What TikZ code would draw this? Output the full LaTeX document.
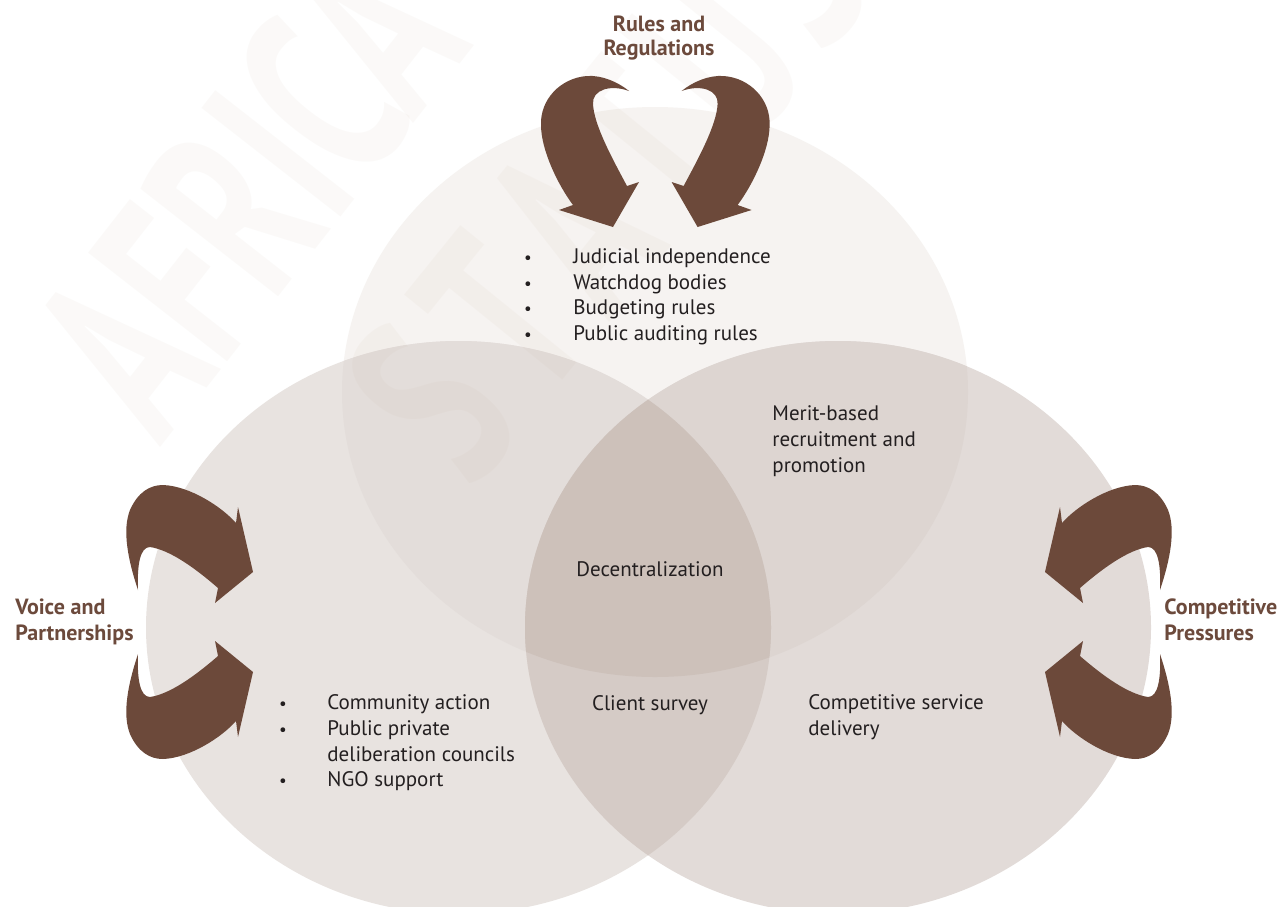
\documentclass[tikz,border=0pt]{standalone}
\usepackage{fontspec}
\setmainfont{PT Sans}
\definecolor{arrowcol}{RGB}{108,73,58}
\definecolor{labelcol}{RGB}{108,74,60}
\definecolor{textdark}{RGB}{35,31,32}
\definecolor{topcol}{RGB}{246,243,241}
\definecolor{leftcol}{RGB}{232,227,224}
\definecolor{rightcol}{RGB}{226,219,216}
\definecolor{ltcol}{RGB}{227,221,218}
\definecolor{rtcol}{RGB}{221,213,209}
\definecolor{lrcol}{RGB}{213,203,198}
\definecolor{lrtcol}{RGB}{205,193,186}
\definecolor{wmcol}{RGB}{190,160,130}
\begin{document}
\begin{tikzpicture}[x=0.5pt,y=-0.5pt,
  body/.style={font=\fontsize{10.5}{12.6}\selectfont, text=textdark, inner sep=0pt},
  bul/.style={font=\fontsize{8.5}{10}\selectfont, text=textdark, inner sep=0pt, anchor=base},
  lbl/.style={font=\bfseries\fontsize{11}{13}\selectfont, text=labelcol, inner sep=0pt},
  wm/.style={font=\bfseries\fontsize{126}{126}\selectfont, text=wmcol, text opacity=0.055, inner sep=0pt},
  arrowTL/.pic={
    \fill[arrowcol] (629,91) .. controls (618,82) and (602,75) .. (587,76)
      .. controls (560,78) and (540,100) .. (541,125)
      .. controls (541,150) and (558,185) .. (573,205)
      -- (559,210) -- (613,227) -- (639,182) -- (627,186)
      .. controls (612,158) and (594,125) .. (593,104)
      .. controls (592,90) and (610,84) .. (629,91) -- cycle;
  },
  arrowLU/.pic={
    \fill[arrowcol] (138,590) .. controls (128,560) and (122,530) .. (130,510)
      .. controls (138,492) and (150,485) .. (163,485)
      .. controls (190,486) and (222,507) .. (236,523)
      -- (238,507) -- (253,572) -- (215,603) -- (218,588)
      .. controls (195,568) and (170,550) .. (150,547)
      .. controls (140,547) and (137,565) .. (138,590) -- cycle;
  }]
\fill[white] (0,0) rectangle (1284,906);
\useasboundingbox (0,0) rectangle (1284,906);
\clip (0,0) rectangle (1284,906);

% circles (ellipses)
\fill[topcol] (655,392) ellipse [x radius=156.5pt, y radius=142.5pt];
\fill[leftcol] (458.5,627.5) ellipse [x radius=156.25pt, y radius=143.25pt];
\fill[rightcol] (838,627.5) ellipse [x radius=156.5pt, y radius=143.25pt];
\begin{scope}
  \clip (655,392) ellipse [x radius=156.5pt, y radius=142.5pt];
  \fill[ltcol] (458.5,627.5) ellipse [x radius=156.25pt, y radius=143.25pt];
  \fill[rtcol] (838,627.5) ellipse [x radius=156.5pt, y radius=143.25pt];
\end{scope}
\begin{scope}
  \clip (458.5,627.5) ellipse [x radius=156.25pt, y radius=143.25pt];
  \fill[lrcol] (838,627.5) ellipse [x radius=156.5pt, y radius=143.25pt];
  \clip (655,392) ellipse [x radius=156.5pt, y radius=142.5pt];
  \fill[lrtcol] (838,627.5) ellipse [x radius=156.5pt, y radius=143.25pt];
\end{scope}

% watermark
\node[wm, anchor=base west, rotate=52, xscale=0.65] (wmA) at (160,448) {AFRICA};
\node[wm, anchor=base, rotate=51, xscale=0.65] (wmS1) at (500,458) {S};
\node[wm, anchor=base, rotate=51, xscale=0.65] (wmT1) at (570,371) {T};
\node[wm, anchor=base, rotate=51, xscale=0.65] (wmA2) at (641,284) {A};
\node[wm, anchor=base, rotate=51, xscale=0.65] (wmT2) at (711,197) {T};
\node[wm, anchor=base, rotate=51, xscale=0.65] (wmU) at (782,110) {U};
\node[wm, anchor=base, rotate=51, xscale=0.65] (wmS2) at (852,23) {S};

% arrows
\pic at (0,0) {arrowTL};
\pic[xscale=-1] at (1310.6,0) {arrowTL};
\pic at (0,0) {arrowLU};
\pic[yscale=-1] at (0,1244) {arrowLU};
\pic[xscale=-1] at (1298,0) {arrowLU};
\pic[xscale=-1,yscale=-1] at (1298,1244) {arrowLU};

% labels
\node[lbl, anchor=base] (rr1) at (659,31) {Rules and};
\node[lbl, anchor=base] (rr2) at (659,55) {Regulations};
\node[lbl, anchor=base west] (vp1) at (15,614) {Voice and};
\node[lbl, anchor=base west] (vp2) at (15,640) {Partnerships};
\node[lbl, anchor=base west] (cp1) at (1164,614) {Competitive};
\node[lbl, anchor=base west] (cp2) at (1164,640) {Pressures};

% top list
\node[bul] (tb1) at (528,263) {\textbullet};
\node[bul] (tb2) at (528,289) {\textbullet};
\node[bul] (tb3) at (528,314) {\textbullet};
\node[bul] (tb4) at (528,340) {\textbullet};
\node[body, anchor=base west] (tt1) at (573,263) {Judicial independence};
\node[body, anchor=base west] (tt2) at (573,289) {Watchdog bodies};
\node[body, anchor=base west] (tt3) at (573,314) {Budgeting rules};
\node[body, anchor=base west] (tt4) at (573,340) {Public auditing rules};

% merit
\node[body, anchor=base west] (m1) at (772,420) {Merit-based};
\node[body, anchor=base west] (m2) at (772,446) {recruitment and};
\node[body, anchor=base west] (m3) at (772,472) {promotion};

% centre
\node[body, anchor=base] (dec) at (650,576) {Decentralization};
\node[body, anchor=base] (cs) at (650,710) {Client survey};

% right
\node[body, anchor=base west] (csd1) at (808,709) {Competitive service};
\node[body, anchor=base west] (csd2) at (808,735) {delivery};

% left list
\node[bul] (lb1) at (283,709) {\textbullet};
\node[bul] (lb2) at (283,735) {\textbullet};
\node[bul] (lb4) at (283,786) {\textbullet};
\node[body, anchor=base west] (l1) at (327,709) {Community action};
\node[body, anchor=base west] (l2) at (327,735) {Public private};
\node[body, anchor=base west] (l3) at (327,761) {deliberation councils};
\node[body, anchor=base west] (l4) at (327,786) {NGO support};
\end{tikzpicture}
\end{document}
